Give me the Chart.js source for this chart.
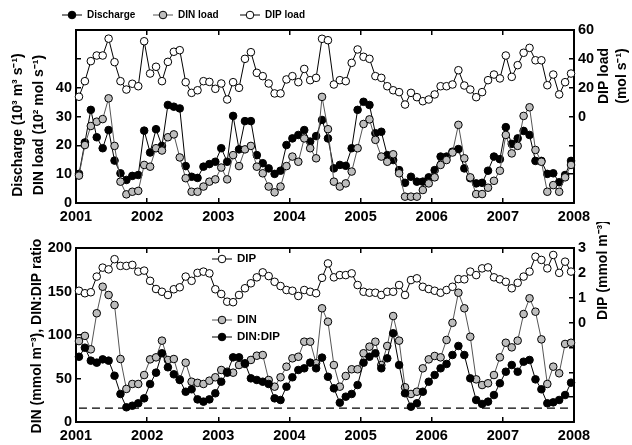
<!DOCTYPE html>
<html>
<head>
<meta charset="utf-8">
<script src="https://cdn.jsdelivr.net/npm/chart.js@4/dist/chart.umd.min.js"></script>
<style>
  html, body { margin: 0; padding: 0; background: #fff; }
  #wrap { position: relative; width: 632px; height: 445px; }
  canvas { position: absolute; left: 0; }
  #topChart { top: 0; }
  #botChart { top: 222px; }
</style>
</head>
<body>
<div id="wrap">
  <canvas id="topChart" width="632" height="222"></canvas>
  <canvas id="botChart" width="632" height="223"></canvas>
</div>
<script>
// monthly series, Jan 2001 .. Dec 2007
const START_YEAR = 2001, END_YEAR = 2008;
const REDFIELD = 16;

// top panel
const discharge = [10.1,21,32.3,22.8,19,25.3,14.7,10.3,8,9.4,9.7,25.1,17.5,25.6,19.8,34,33.4,32.8,12.8,9.1,8.7,
  12.6,13.5,14.3,19,14.3,30.2,18.6,28.4,28.4,16.6,13.8,12,10.1,11.2,20.1,22.4,23.6,25.3,21.3,23.2,28.8,22.4,
  12,13.2,12.9,19,32.3,35.1,34,24.2,24.7,16.6,14.9,11.4,7,9.1,7.4,7.4,8.9,11.4,16.1,16.1,17.8,18.7,
  12,8.6,6.8,7,11.2,16.1,15.2,26.3,20.5,22.4,25,23.6,14.6,14.6,10.1,10.3,7.2,9.7,14.6];
const dinLoad = [9.5,20.1,26.7,28.2,29.1,36.3,19.8,7.4,3,3.9,4.2,13.2,12.6,19,18.2,22.8,23.8,15.8,8.6,3.9,3.9,
  5.7,7.4,8.2,12.3,8.2,16.6,12.8,18.6,19.8,12.6,10.3,5.7,3.7,5.7,12.8,16.1,14.3,22.4,19,15.5,36.8,25.6,
  7.4,5.7,6.8,10.9,19,27.4,29,21.9,16.1,14.3,16.9,10.3,2.2,2.2,2.2,4.5,6.8,8.9,13.2,14.9,17.5,27.1,
  15.5,8.9,3.1,3.1,5.3,7.7,11.2,23.6,17.2,19.8,30.2,33.2,18.4,14.3,3.9,6.2,3.9,8.9,13.2];
const dipLoad = [13.7,24.5,38.4,42.3,42.3,54,37.7,24.5,18.7,22.7,21,52.2,29.8,34.5,24.5,37.9,44.9,46,23.8,16.4,18.2,
  24.5,24,19.2,22.9,11.8,23.8,19.9,40,44.6,30.3,28,22.9,16,16,25.7,28,23.8,33,25.2,26.8,53.9,52.9,
  22.2,25.2,24.5,37.2,46.5,41.4,40,28,26.8,21,18.2,16.9,8.3,16.4,13.4,10.6,11.8,15.3,21,21,22.2,32.1,
  21.5,18.7,13.4,16.9,25.2,29.1,26.4,42.3,27.5,35.6,44.2,47.6,39,39,21.7,29.1,15.3,23.8,29.8];

// bottom panel
const dinConc = [93,99,83.5,125,155.5,146,134.5,72.4,38,43.7,43.7,54,72,74.3,93.5,71.3,72.4,49,68.2,46.3,45,
  43.7,47.5,51.4,59.8,57.8,56.7,65.5,66.7,71.3,76.2,77,48.3,40.6,51.4,63.6,73.2,75,92.3,92.3,67.5,130.7,115.3,
  65.5,40.6,52.9,60.6,60.6,79,86.6,92.3,65.5,87.4,121.8,93.5,39.9,32.2,34.8,61.7,72,75.9,74.3,94.3,114,148.6,
  130.7,98,49,42.5,44.5,54,74.3,91.1,85.8,93.5,124.1,142.2,126.8,95,43.7,63.6,56,89.7,91.1];
const dinDipRatio = [75,85.4,70.5,68.2,72,70.5,53.2,32.2,16.9,18.7,21.5,27.2,43.7,56.7,79,62.9,54.8,48.3,34.8,37.6,26,
  23.4,26,33,46.3,56.7,74.3,74.3,67.5,50.2,48.3,46.3,43.7,27.2,25.3,40.6,51.4,59.8,61.7,68.2,61.7,74,52,
  38.7,22.2,29.1,32.2,42.5,68.2,75,79,61.7,73.2,102,65.5,33,17.6,21.5,34.8,46.3,54,61.7,66.7,77,87.4,
  77,50.2,25.3,20.7,23.4,31,44.5,57.8,65.5,57.8,69.3,71.3,49,37.6,21.5,22.6,25.3,31,45.2];
const dipConc = [1.28,1.18,1.22,1.85,2.21,2.14,2.55,2.28,2.28,2.32,2.05,2.09,1.68,1.35,1.24,1.11,1.34,1.42,1.85,1.68,2.0,
  2.05,1.98,1.34,1.15,0.84,0.82,1.11,1.38,1.58,1.82,2.02,1.87,1.64,1.47,1.31,1.28,1.07,1.31,1.24,1.18,1.8,2.38,
  1.82,1.91,1.91,1.98,1.51,1.24,1.2,1.2,1.11,1.24,1.24,1.51,1.11,1.71,1.78,1.44,1.35,1.28,1.2,1.31,1.44,1.75,
  1.74,2.05,1.91,2.18,2.22,1.82,1.74,1.64,1.38,1.6,1.85,2.05,2.65,2.52,2.18,2.72,2.0,2.45,2.05];

const months = discharge.map((_, i) => START_YEAR + (i + 0.5) / 12);

const FONT = '"Liberation Sans", Arial, Helvetica, sans-serif';
Chart.defaults.font.family = FONT;
Chart.defaults.color = '#000';
Chart.defaults.animation = false;

const TICK_FONT = { size: 14.5, weight: 'bold' };
const GRAY = '#bdbdbd';
const R = 3.8;

function pts(arr){ return arr.map((v, i) => ({ x: months[i], y: v })); }

function series(label, arr, fill, line, axis){
  return {
    label, data: pts(arr), yAxisID: axis,
    borderColor: line, borderWidth: 1, backgroundColor: fill,
    pointBackgroundColor: fill, pointBorderColor: '#000', pointBorderWidth: 1,
    pointRadius: R, pointHoverRadius: R, tension: 0, fill: false, clip: false
  };
}

function yAxis(pos, min, max, step, show, width){
  return {
    type: 'linear', position: pos, min, max,
    ticks: { stepSize: step, font: TICK_FONT, color: '#000', padding: 9,
             callback: v => show(v) ? String(v) : '' },
    grid: { drawOnChartArea: false, tickLength: -5, color: '#000', lineWidth: 1.5 },
    border: { color: '#000', width: 2 },
    afterFit: s => { s.width = width; }
  };
}

function xAxis(pos, height, labels){
  return {
    type: 'linear', position: pos, min: START_YEAR, max: END_YEAR,
    ticks: { stepSize: 1, display: labels, font: TICK_FONT, color: '#000', padding: 10.5,
             maxRotation: 0, autoSkip: false, callback: v => String(v) },
    grid: { drawOnChartArea: false, tickLength: -5, color: '#000', lineWidth: 1.5 },
    border: { color: '#000', width: 2 },
    afterFit: s => { s.height = height; }
  };
}

// legends and axis titles drawn on top of the chart
const overlay = {
  id: 'overlay',
  afterDraw(chart, args, opts){
    const ctx = chart.ctx;
    ctx.save();
    (opts.legend || []).forEach(it => {
      const ds = chart.data.datasets[it.index];
      ctx.lineWidth = 1;
      ctx.strokeStyle = ds.borderColor;
      ctx.beginPath(); ctx.moveTo(it.x, it.y); ctx.lineTo(it.x + 20, it.y); ctx.stroke();
      ctx.beginPath(); ctx.arc(it.x + 10, it.y, R, 0, Math.PI * 2);
      ctx.fillStyle = ds.pointBackgroundColor; ctx.fill();
      ctx.strokeStyle = '#000'; ctx.stroke();
      ctx.fillStyle = '#000';
      ctx.font = 'bold ' + opts.legendSize + 'px ' + FONT;
      ctx.textAlign = 'left'; ctx.textBaseline = 'middle';
      ctx.fillText(ds.label, it.x + 25, it.y);
    });
    (opts.titles || []).forEach(t => {
      ctx.save();
      ctx.translate(t.x, t.y);
      ctx.rotate(-Math.PI / 2);
      ctx.fillStyle = '#000';
      ctx.font = 'bold 14px ' + FONT;
      ctx.textAlign = 'center'; ctx.textBaseline = 'middle';
      ctx.fillText(t.text, 0, 0);
      ctx.restore();
    });
    ctx.restore();
  }
};

new Chart(document.getElementById('topChart'), {
  type: 'line',
  data: { datasets: [
    series('DIN load', dinLoad, GRAY, '#555', 'y'),
    series('Discharge', discharge, '#000', '#000', 'y'),
    series('DIP load', dipLoad, '#fff', '#000', 'y2')
  ] },
  options: {
    responsive: false,
    layout: { padding: { top: 30, left: 0, right: 0, bottom: 0 }, autoPadding: false },
    plugins: {
      legend: { display: false }, tooltip: { enabled: false },
      overlay: {
        legendSize: 10,
        legend: [ { index: 1, x: 62, y: 15 }, { index: 0, x: 153, y: 15 }, { index: 2, x: 240, y: 15 } ],
        titles: [
          { text: 'Discharge (10³ m³ s⁻¹)', x: 18.5, y: 125 },
          { text: 'DIN load (10² mol s⁻¹)', x: 39.5, y: 125 },
          { text: 'DIP load', x: 604, y: 76 },
          { text: '(mol s⁻¹)', x: 622, y: 76 }
        ]
      }
    },
    scales: {
      x: xAxis('bottom', 19, true),
      xt: xAxis('top', 0, false),
      y: yAxis('left', 0, 60, 10, v => v <= 40, 76),
      y2: yAxis('right', -60, 60, 20, v => v >= 0, 58)
    }
  },
  plugins: [overlay]
});

new Chart(document.getElementById('botChart'), {
  type: 'line',
  data: { datasets: [
    series('DIN:DIP', dinDipRatio, '#000', '#000', 'y'),
    series('DIN', dinConc, GRAY, '#555', 'y'),
    series('DIP', dipConc, '#fff', '#000', 'y2'),
    { label: 'Redfield', data: [ { x: months[0], y: REDFIELD }, { x: months[months.length - 1], y: REDFIELD } ],
      yAxisID: 'y', borderColor: '#000', borderWidth: 1.3, borderDash: [8, 5], pointRadius: 0, fill: false }
  ] },
  options: {
    responsive: false,
    layout: { padding: { top: 26, left: 0, right: 0, bottom: 0 }, autoPadding: false },
    plugins: {
      legend: { display: false }, tooltip: { enabled: false },
      overlay: {
        legendSize: 11.5,
        legend: [ { index: 2, x: 212, y: 37 }, { index: 1, x: 212, y: 98 }, { index: 0, x: 212, y: 115 } ],
        titles: [
          { text: 'DIN (mmol m⁻³), DIN:DIP ratio', x: 37.5, y: 114 },
          { text: 'DIP (mmol m⁻³)', x: 603, y: 48 }
        ]
      }
    },
    scales: {
      x: xAxis('bottom', 23, true),
      xt: xAxis('top', 0, false),
      y: yAxis('left', 0, 200, 50, v => true, 76),
      y2: yAxis('right', -4, 3, 1, v => v >= 0, 58)
    }
  },
  plugins: [overlay]
});
</script>
</body>
</html>
